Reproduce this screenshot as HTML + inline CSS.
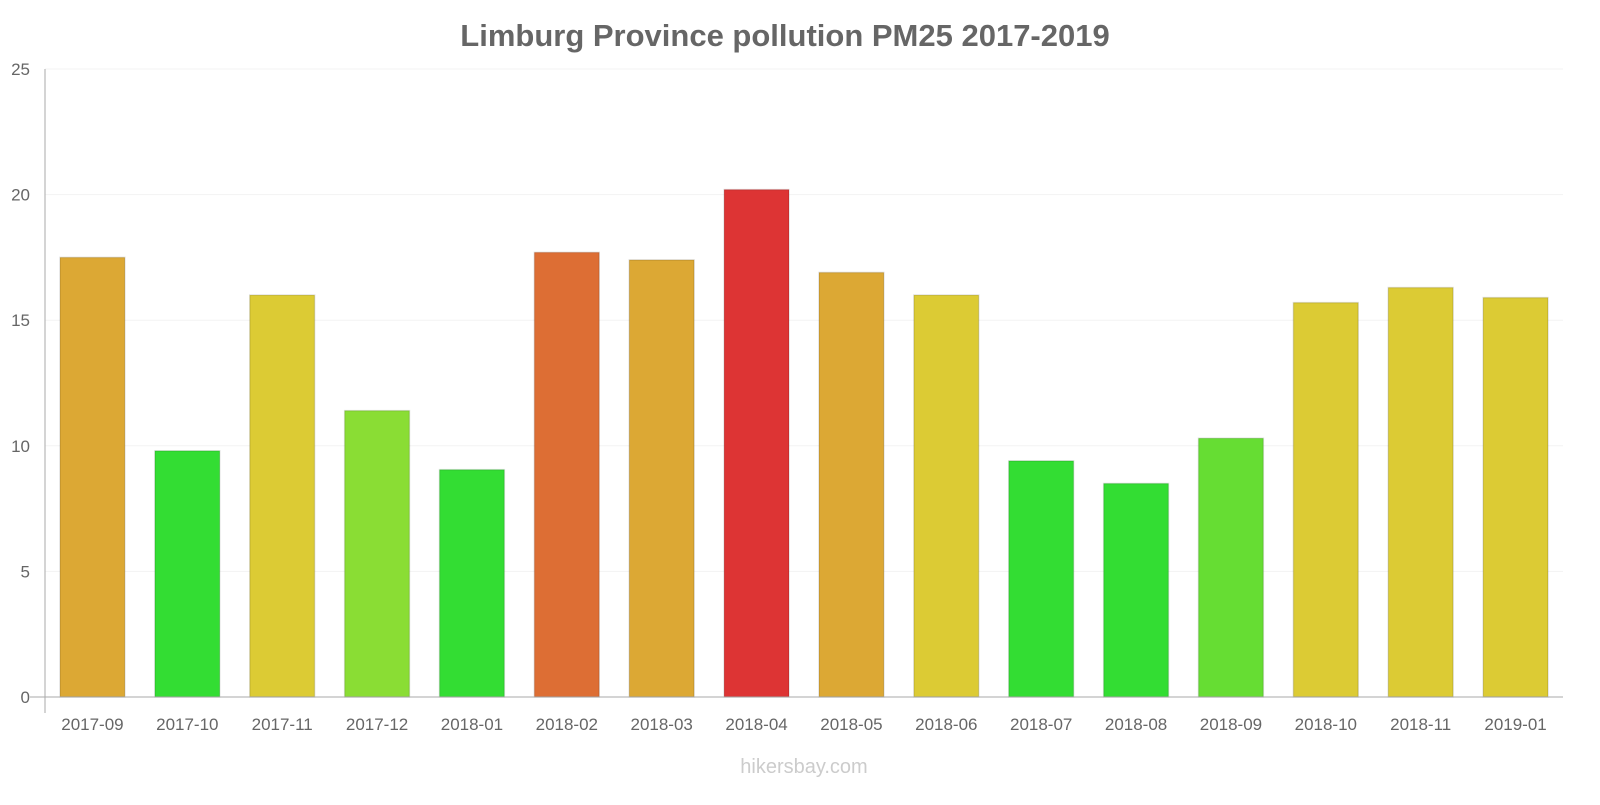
<!DOCTYPE html>
<html><head><meta charset="utf-8"><style>
body{margin:0;background:#fff;font-family:"Liberation Sans",sans-serif}
</style></head><body>
<svg id="chart" width="1600" height="800" xmlns="http://www.w3.org/2000/svg">
<text x="785" y="46" text-anchor="middle" font-size="31" font-weight="bold" fill="#666">Limburg Province pollution PM25 2017-2019</text>
<g id="grid"></g><g id="bars"></g><g id="axes"></g>
<text x="804" y="773" text-anchor="middle" font-size="20" fill="#ccc">hikersbay.com</text>
</svg>
<script>
const categories=["2017-09","2017-10","2017-11","2017-12","2018-01","2018-02","2018-03","2018-04","2018-05","2018-06","2018-07","2018-08","2018-09","2018-10","2018-11","2019-01"];
const values=[17.5,9.8,16.0,11.4,9.05,17.7,17.4,20.2,16.9,16.0,9.4,8.5,10.3,15.7,16.3,15.9];
const colors=["#dca834","#33dd33","#dccb34","#8add34","#33dd33","#dd6e34","#dca834","#dd3434","#dca834","#dccb34","#33dd33","#33dd33","#66dd33","#dccb34","#dccb34","#dccb34"];
const yTicks=[0,5,10,15,20,25];
const NS="http://www.w3.org/2000/svg";
const x0=45,x1=1563,y0=697,yTop=69,yMax=25;
const bw=(x1-x0)/categories.length;
const y=v=>y0-(v/yMax)*(y0-yTop);
const xs=i=>x0+i*bw;
function mk(t,a,p){const e=document.createElementNS(NS,t);for(const k in a)e.setAttribute(k,a[k]);p.appendChild(e);return e;}
const grid=document.getElementById('grid'),bars=document.getElementById('bars'),axes=document.getElementById('axes');
yTicks.forEach(t=>{
 const l=mk('line',{x1:x0,x2:x1,y1:y(t),y2:y(t),stroke:"#f3f3f3"},grid);
 
 
 const tx=mk('text',{x:30,y:y(t)+6,"text-anchor":"end","font-size":17,fill:"#666"},axes);
 tx.textContent=t;
 
 
});
values.forEach((v,i)=>{
 const r=mk('rect',{x:xs(i)+15,y:y(v),width:bw-30,height:y0-y(v),fill:colors[i],stroke:"rgba(0,0,0,0.12)","stroke-width":1.5},bars);
 
 
 const tx=mk('text',{x:xs(i)+bw/2,y:730,"text-anchor":"middle","font-size":17,fill:"#666"},axes);
 tx.textContent=categories[i];
 
 
});
const ax=mk('line',{x1:x0,x2:x0,y1:yTop,y2:713,stroke:"#aaa"},axes);


const bx=mk('line',{x1:30,x2:x1,y1:y0,y2:y0,stroke:"#aaa"},axes);


</script>
</body></html>
